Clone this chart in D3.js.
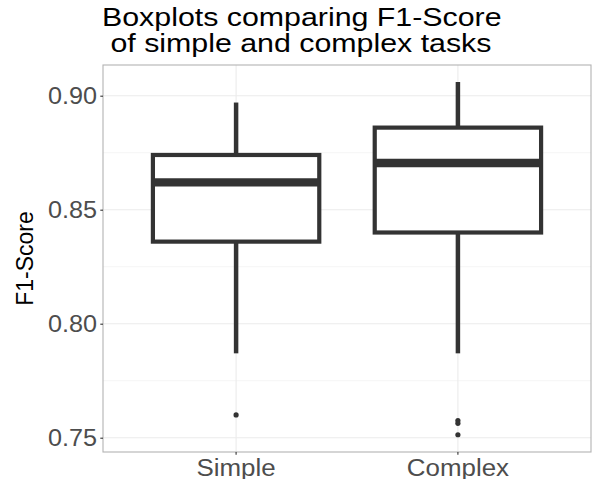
<!DOCTYPE html>
<html>
<head>
<meta charset="utf-8">
<script src="https://cdn.jsdelivr.net/npm/d3@7"></script>
<style>
  body { margin: 0; background: #fff; }
  text { font-family: "Liberation Sans", Arial, sans-serif; }
</style>
</head>
<body>
<div id="chart"></div>
<script>
// Boxplot data
var categories = ["Simple", "Complex"];
var whiskerLow = [0.787, 0.787];
var q1 = [0.836, 0.840];
var medians = [0.862, 0.8705];
var q3 = [0.874, 0.886];
var whiskerHigh = [0.897, 0.906];
var outliers = [[0.760], [0.7575, 0.7563, 0.7513]];
var yTicks = [0.75, 0.80, 0.85, 0.90];
var yMinor = [0.775, 0.825, 0.875];
var titleLines = ["Boxplots comparing F1-Score", " of simple and complex tasks"];

var width = 594, height = 479;
var margin = {top: 65, right: 3, bottom: 27, left: 103};
var pw = width - margin.left - margin.right;
var ph = height - margin.top - margin.bottom;

var svg = d3.select("#chart").append("svg")
  .attr("width", width)
  .attr("height", height);

var g = svg.append("g").attr("transform", "translate(" + margin.left + "," + margin.top + ")");

// y: 0.75 -> 437.7, 0.90 -> 95.7 in page coords
var y = d3.scaleLinear()
  .domain([0.75, 0.90])
  .range([437.7 - margin.top, 95.7 - margin.top]);

// discrete x like ggplot: categories at 1..n, limits expanded by 0.6
var x = d3.scaleLinear()
  .domain([0.4, categories.length + 0.6])
  .range([0, pw]);
function cx(i) { return x(i + 1); }
var boxW = x(1.75) - x(1);

// grid
g.selectAll(".minor").data(yMinor).enter().append("line")
  .attr("x1", 0).attr("x2", pw)
  .attr("y1", function(d) { return y(d); }).attr("y2", function(d) { return y(d); })
  .style("stroke", "#F2F2F2").style("stroke-width", 0.8);
g.selectAll(".major").data(yTicks).enter().append("line")
  .attr("x1", 0).attr("x2", pw)
  .attr("y1", function(d) { return y(d); }).attr("y2", function(d) { return y(d); })
  .style("stroke", "#EBEBEB").style("stroke-width", 1.1);
g.selectAll(".vgrid").data(categories).enter().append("line")
  .attr("x1", function(d, i) { return cx(i); }).attr("x2", function(d, i) { return cx(i); })
  .attr("y1", 0).attr("y2", ph)
  .style("stroke", "#EBEBEB").style("stroke-width", 1.1);

var col = "#333333";
var boxes = g.selectAll(".box").data(categories).enter().append("g");

// whiskers
boxes.append("line")
  .attr("x1", function(d, i) { return cx(i); }).attr("x2", function(d, i) { return cx(i); })
  .attr("y1", function(d, i) { return y(whiskerHigh[i]); })
  .attr("y2", function(d, i) { return y(q3[i]); })
  .style("stroke", col).style("stroke-width", 4.5);
boxes.append("line")
  .attr("x1", function(d, i) { return cx(i); }).attr("x2", function(d, i) { return cx(i); })
  .attr("y1", function(d, i) { return y(q1[i]); })
  .attr("y2", function(d, i) { return y(whiskerLow[i]); })
  .style("stroke", col).style("stroke-width", 4.5);
// box
boxes.append("rect")
  .attr("x", function(d, i) { return cx(i) - boxW / 2; })
  .attr("width", boxW)
  .attr("y", function(d, i) { return y(q3[i]); })
  .attr("height", function(d, i) { return y(q1[i]) - y(q3[i]); })
  .style("fill", "#fff").style("stroke", col).style("stroke-width", 4.2);
// median
boxes.append("line")
  .attr("x1", function(d, i) { return cx(i) - boxW / 2; })
  .attr("x2", function(d, i) { return cx(i) + boxW / 2; })
  .attr("y1", function(d, i) { return y(medians[i]); })
  .attr("y2", function(d, i) { return y(medians[i]); })
  .style("stroke", col).style("stroke-width", 8.4);
// outliers
boxes.each(function(d, i) {
  d3.select(this).selectAll("circle").data(outliers[i]).enter().append("circle")
    .attr("cx", cx(i)).attr("cy", function(v) { return y(v); })
    .attr("r", 2.6).style("fill", col);
});

// panel border
g.append("rect").attr("width", pw).attr("height", ph)
  .style("fill", "none").style("stroke", "#B3B3B3").style("stroke-width", 1.1);

// axes
var yAxis = g.append("g").call(d3.axisLeft(y).tickValues(yTicks).tickFormat(d3.format(".2f")).tickSize(2.7).tickPadding(3));
yAxis.select(".domain").remove();
yAxis.selectAll("line").style("stroke", "#333333").style("stroke-width", 1.1);
yAxis.selectAll("text").style("font-size", "24px").style("fill", "#4D4D4D")
  .style("font-family", "Liberation Sans, Arial, sans-serif")
  .attr("transform", "scale(1.05,1)");

var xAxis = g.append("g").attr("transform", "translate(0," + ph + ")");
xAxis.selectAll("line").data(categories).enter().append("line")
  .attr("x1", function(d, i) { return cx(i); }).attr("x2", function(d, i) { return cx(i); })
  .attr("y1", 0).attr("y2", 2.7).style("stroke", "#333333").style("stroke-width", 1.1);
xAxis.selectAll("text").data(categories).enter().append("text")
  .attr("transform", function(d, i) { return "translate(" + cx(i) + ",23.5) scale(1.08,1)"; })
  .attr("text-anchor", "middle")
  .style("font-size", "24px").style("fill", "#4D4D4D")
  .text(function(d) { return d; });

// y title
svg.append("text")
  .attr("transform", "translate(33," + (margin.top + ph / 2) + ") rotate(-90)")
  .attr("text-anchor", "middle")
  .style("font-size", "23px").style("fill", "#000")
  .text("F1-Score");

// title
svg.selectAll(".title").data(titleLines).enter().append("text")
  .attr("transform", function(d, i) { return "translate(102," + (26 + i * 26.4) + ") scale(1.19,1)"; })
  .style("font-size", "25.5px").style("fill", "#000")
  .style("white-space", "pre")
  .attr("xml:space", "preserve")
  .text(function(d) { return d; });
</script>
</body>
</html>
